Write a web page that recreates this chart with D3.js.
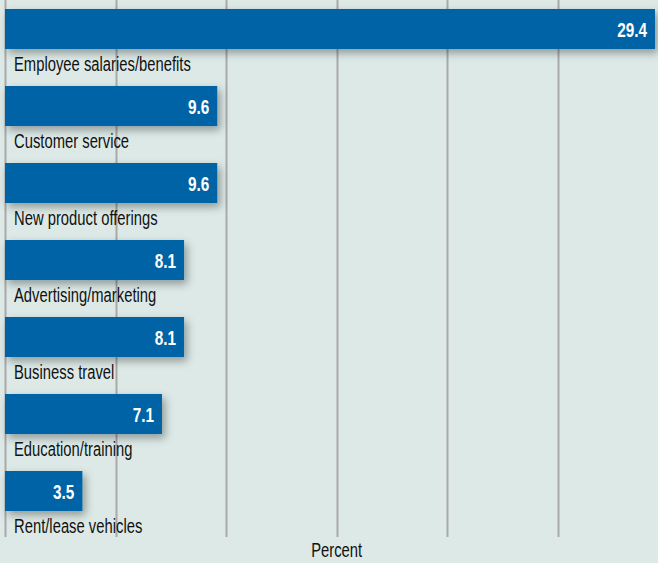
<!DOCTYPE html>
<html>
<head>
<meta charset="utf-8">
<script src="https://cdn.jsdelivr.net/npm/d3@7"></script>
<style>
  html, body { margin: 0; padding: 0; background: #dce9e6; }
  svg { display: block; }
  .label { font-family: "Liberation Sans", Arial, sans-serif; font-size: 21px; fill: #111; }
  .value { font-family: "Liberation Sans", Arial, sans-serif; font-size: 21px; font-weight: bold; fill: #fff; }
</style>
</head>
<body>
<div id="chart"></div>
<script>
// Chart data
var categories = ["Employee salaries/benefits", "Customer service", "New product offerings",
                  "Advertising/marketing", "Business travel", "Education/training", "Rent/lease vehicles"];
var values = [29.4, 9.6, 9.6, 8.1, 8.1, 7.1, 3.5];
var gridTicks = [0, 5, 10, 15, 20, 25];
var axisTitle = "Percent";

var width = 658, height = 563;
// the original uses a condensed face; squeeze a regular one horizontally
var labelSqueeze = 0.705,
    valueSqueeze = 0.73;

var svg = d3.select("#chart").append("svg")
    .attr("width", width)
    .attr("height", height);

svg.append("rect")
    .attr("width", width)
    .attr("height", height)
    .attr("fill", "#dce9e6");

// Drop shadow for bars
var defs = svg.append("defs");
var filter = defs.append("filter")
    .attr("id", "shadow")
    .attr("x", "-10%").attr("y", "-30%")
    .attr("width", "130%").attr("height", "180%");
filter.append("feDropShadow")
    .attr("dx", 3).attr("dy", 4)
    .attr("stdDeviation", 4)
    .attr("flood-color", "#000")
    .attr("flood-opacity", 0.35);

// Scales
var x = d3.scaleLinear()
    .domain([0, 29.4])
    .range([5, 655]);

var y = d3.scaleBand()
    .domain(categories)
    .range([9, 9 + 77 * categories.length])
    .paddingInner(0);

var barHeight = y.bandwidth() * 0.52;

// Vertical gridlines
svg.selectAll("line.grid")
    .data(gridTicks)
    .enter().append("line")
    .attr("class", "grid")
    .attr("x1", function(d) { return Math.round(x(d)) + 0.5; })
    .attr("x2", function(d) { return Math.round(x(d)) + 0.5; })
    .attr("y1", 0)
    .attr("y2", 537)
    .attr("stroke", "#a9a9a9")
    .attr("stroke-width", 2);

// Bars
svg.selectAll("rect.bar")
    .data(values)
    .enter().append("rect")
    .attr("class", "bar")
    .attr("x", x(0))
    .attr("y", function(d, i) { return y(categories[i]); })
    .attr("width", function(d) { return x(d) - x(0); })
    .attr("height", barHeight)
    .attr("fill", "#0063a5")
    .attr("filter", "url(#shadow)");

// Value labels inside bars
svg.selectAll("text.value")
    .data(values)
    .enter().append("text")
    .attr("class", "value")
    .attr("text-anchor", "end")
    .attr("transform", function(d, i) {
        return "translate(" + (x(d) - 8) + "," + (y(categories[i]) + barHeight / 2 + 7.5) + ") scale(" + valueSqueeze + ",1)";
    })
    .text(function(d) { return d3.format(".1f")(d); });

// Category labels under bars
svg.selectAll("text.label")
    .data(categories)
    .enter().append("text")
    .attr("class", "label")
    .attr("transform", function(d) {
        return "translate(14," + (y(d) + barHeight + 22) + ") scale(" + labelSqueeze + ",1)";
    })
    .text(function(d) { return d; });

// Axis title
svg.append("text")
    .attr("class", "label")
    .attr("text-anchor", "middle")
    .attr("transform", "translate(" + x(15) + ",557) scale(" + labelSqueeze + ",1)")
    .text(axisTitle);
</script>
</body>
</html>
